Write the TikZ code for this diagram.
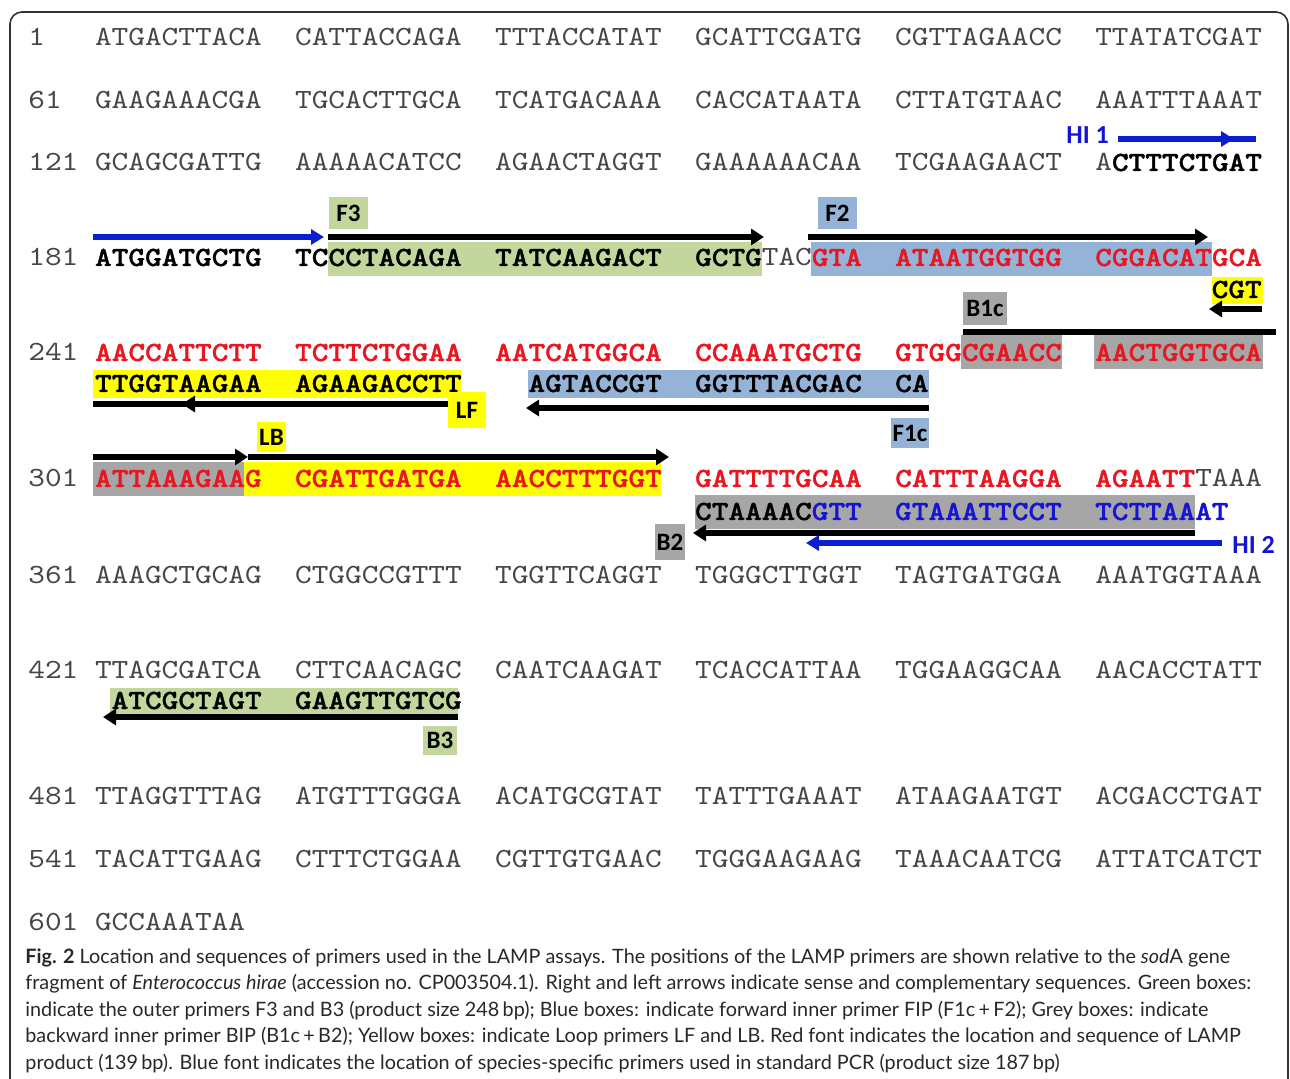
\documentclass[tikz,border=0pt]{standalone}
\usepackage{fontspec}
\usetikzlibrary{arrows.meta}
\setmainfont{Lato}
\newfontfamily\seqfont{lmmono10-regular.otf}[BoldFont=lmmonolt10-bold.otf, BoldFeatures={FakeBold=1.3}, FakeStretch=1.143]
\newfontfamily\labfont{Carlito}
\definecolor{plain}{RGB}{70,70,70}
\definecolor{seqred}{RGB}{232,22,32}
\definecolor{seqblue}{RGB}{20,20,210}
\definecolor{arrblue}{RGB}{12,30,210}
\definecolor{gbox}{RGB}{195,214,155}
\definecolor{bbox}{RGB}{149,179,215}
\definecolor{greybox}{RGB}{166,166,166}
\definecolor{ybox}{RGB}{255,255,0}
\definecolor{captxt}{RGB}{40,40,40}
\newcommand\sqP[1]{{\color{plain}#1}}
\newcommand\sqK[1]{{\bfseries\color{black}#1}}
\newcommand\sqR[1]{{\bfseries\color{seqred}#1}}
\newcommand\sqB[1]{{\bfseries\color{seqblue}#1}}
\tikzset{
  seqrow/.style={anchor=base west, inner sep=0pt, font=\seqfont\fontsize{13.89pt}{16pt}\selectfont},
  labbox/.style={inner sep=0pt, font=\labfont\bfseries\fontsize{12.5pt}{13pt}\selectfont, text=black},
  hilab/.style={anchor=base west, inner sep=0pt, font=\labfont\bfseries\fontsize{13pt}{14pt}\selectfont, text=seqblue},
  blk/.style={line width=2.8pt, black},
  blkarr/.style={blk, -{Triangle[length=6.5pt,width=8pt]}},
  blu/.style={line width=2.6pt, arrblue},
  bluarr/.style={blu, -{Triangle[length=6.5pt,width=7.5pt]}},
  capline/.style={anchor=base west, inner sep=0pt, text=captxt, font=\fontsize{9.9pt}{12pt}\selectfont}
}
\begin{document}
\begin{tikzpicture}[x=0.5pt,y=-0.5pt]
\useasboundingbox (0,0) rectangle (1290,1079);
\fill[white] (0,0) rectangle (1290,1079);
% frame
\draw[line width=0.8pt, black!80, rounded corners=6pt] (10,1085) -- (10,12) -- (1288,12) -- (1288,1085);

% ---- highlight boxes ----
\fill[gbox] (328,242) rectangle (762,276);
\fill[bbox] (811,242) rectangle (1212,276);
\fill[ybox] (1212,277) rectangle (1263,304);
\fill[greybox] (961,335) rectangle (1062,369);
\fill[greybox] (1094,335) rectangle (1263,369);
\fill[ybox] (93,370) rectangle (461,398);
\fill[bbox] (528,370) rectangle (929,398);
\fill[greybox] (93,462) rectangle (244,496);
\fill[ybox] (244,462) rectangle (661,496);
\fill[greybox] (695,495) rectangle (1195,529);
\fill[gbox] (110,688) rectangle (458,716);

% ---- sequence rows ----
\node[seqrow] (r1) at (28,46) {\sqP{1~~~ATGACTTACA~~CATTACCAGA~~TTTACCATAT~~GCATTCGATG~~CGTTAGAACC~~TTATATCGAT}};
\node[seqrow] (r61) at (28,109) {\sqP{61~~GAAGAAACGA~~TGCACTTGCA~~TCATGACAAA~~CACCATAATA~~CTTATGTAAC~~AAATTTAAAT}};
\node[seqrow] (r121) at (28,171) {\sqP{121~GCAGCGATTG~~AAAAACATCC~~AGAACTAGGT~~GAAAAAACAA~~TCGAAGAACT~~A}\sqK{CTTTCTGAT}};
\node[seqrow] (r181) at (28,266) {\sqP{181~}\sqK{ATGGATGCTG~~TCCCTACAGA~~TATCAAGACT~~GCTG}\sqP{TAC}\sqR{GTA~~ATAATGGTGG~~CGGACATGCA}};
\node[seqrow] (cgt) at (1211.3,298) {\sqK{CGT}};
\node[seqrow] (r241) at (28,361) {\sqP{241~}\sqR{AACCATTCTT~~TCTTCTGGAA~~AATCATGGCA~~CCAAATGCTG~~GTGGCGAACC~~AACTGGTGCA}};
\node[seqrow] (c241) at (94.7,392) {\sqK{TTGGTAAGAA~~AGAAGACCTT~~~~AGTACCGT~~GGTTTACGAC~~CA}};
\node[seqrow] (r301) at (28,487) {\sqP{301~}\sqR{ATTAAAGAAG~~CGATTGATGA~~AACCTTTGGT~~GATTTTGCAA~~CATTTAAGGA~~AGAATT}\sqP{TAAA}};
\node[seqrow] (c301) at (694.7,520) {\sqK{CTAAAAC}\sqB{GTT~~GTAAATTCCT~~TCTTAAAT}};
\node[seqrow] (r361) at (28,583) {\sqP{361~AAAGCTGCAG~~CTGGCCGTTT~~TGGTTCAGGT~~TGGGCTTGGT~~TAGTGATGGA~~AAATGGTAAA}};
\node[seqrow] (r421) at (28,678) {\sqP{421~TTAGCGATCA~~CTTCAACAGC~~CAATCAAGAT~~TCACCATTAA~~TGGAAGGCAA~~AACACCTATT}};
\node[seqrow] (c421) at (111.3,709) {\sqK{ATCGCTAGT~~GAAGTTGTCG}};
\node[seqrow] (r481) at (28,804) {\sqP{481~TTAGGTTTAG~~ATGTTTGGGA~~ACATGCGTAT~~TATTTGAAAT~~ATAAGAATGT~~ACGACCTGAT}};
\node[seqrow] (r541) at (28,867) {\sqP{541~TACATTGAAG~~CTTTCTGGAA~~CGTTGTGAAC~~TGGGAAGAAG~~TAAACAATCG~~ATTATCATCT}};
\node[seqrow] (r601) at (28,930) {\sqP{601~GCCAAATAA}};

% ---- primer labels ----
\node[labbox, fill=gbox, minimum width=19.5pt, minimum height=16pt] (F3) at (348.5,213) {F3};
\node[labbox, fill=bbox, minimum width=19.5pt, minimum height=16pt] (F2) at (837.5,213) {F2};
\node[labbox, fill=greybox, minimum width=22pt, minimum height=16.5pt] (B1c) at (985,308.5) {B1c};
\node[labbox, fill=ybox, minimum width=19pt, minimum height=18pt] (LF) at (467,410) {LF};
\node[labbox, fill=bbox, minimum width=19pt, minimum height=15pt] (F1c) at (910,433) {F1c};
\node[labbox, fill=ybox, minimum width=14.5pt, minimum height=15pt] (LB) at (271.5,437) {LB};
\node[labbox, fill=greybox, minimum width=15pt, minimum height=18pt] (B2) at (670,542) {B2};
\node[labbox, fill=gbox, minimum width=17pt, minimum height=14.5pt] (B3) at (440,740.5) {B3};
\node[hilab] (HI1) at (1066,144) {HI 1};
\node[hilab] (HI2) at (1232,553) {HI 2};

% ---- arrows ----
\draw[bluarr] (1118,139) -- (1234,139);
\draw[blu] (1225,139) -- (1256,139);
\draw[bluarr] (93,237) -- (324,237);
\draw[blkarr] (328,237) -- (764,237);
\draw[blkarr] (808,237) -- (1208,237);
\draw[blkarr] (1262,309) -- (1209,309);
\draw[blk] (963,332) -- (1276,332);
\draw[blk] (448,404) -- (190,404);
\draw[blkarr] (200,404) -- (182,404);
\draw[blk] (186,404) -- (93,404);
\draw[blkarr] (929,408) -- (526,408);
\draw[blkarr] (93,457) -- (248,457);
\draw[blkarr] (248,457) -- (669,457);
\draw[blkarr] (1195,533) -- (693,533);
\draw[bluarr] (1222,543) -- (806,543);
\draw[blkarr] (458,717) -- (103,717);

% ---- caption ----
\node[capline] (cap1) at (25,963) {\textbf{Fig. 2} Location and sequences of primers used in the LAMP assays. The positions of the LAMP primers are shown relative to the \textit{sod}A gene};
\node[capline] (cap2) at (25,989.5) {fragment of \textit{Enterococcus hirae} (accession no. CP003504.1). Right and left arrows indicate sense and complementary sequences. Green boxes:};
\node[capline] (cap3) at (25,1016) {indicate the outer primers F3 and B3 (product size 248\,bp); Blue boxes: indicate forward inner primer FIP (F1c\,+\,F2); Grey boxes: indicate};
\node[capline] (cap4) at (25,1042.5) {backward inner primer BIP (B1c\,+\,B2); Yellow boxes: indicate Loop primers LF and LB. Red font indicates the location and sequence of LAMP};
\node[capline] (cap5) at (25,1069) {product (139\,bp). Blue font indicates the location of species-specific primers used in standard PCR (product size 187\,bp)};
\end{tikzpicture}
\end{document}
